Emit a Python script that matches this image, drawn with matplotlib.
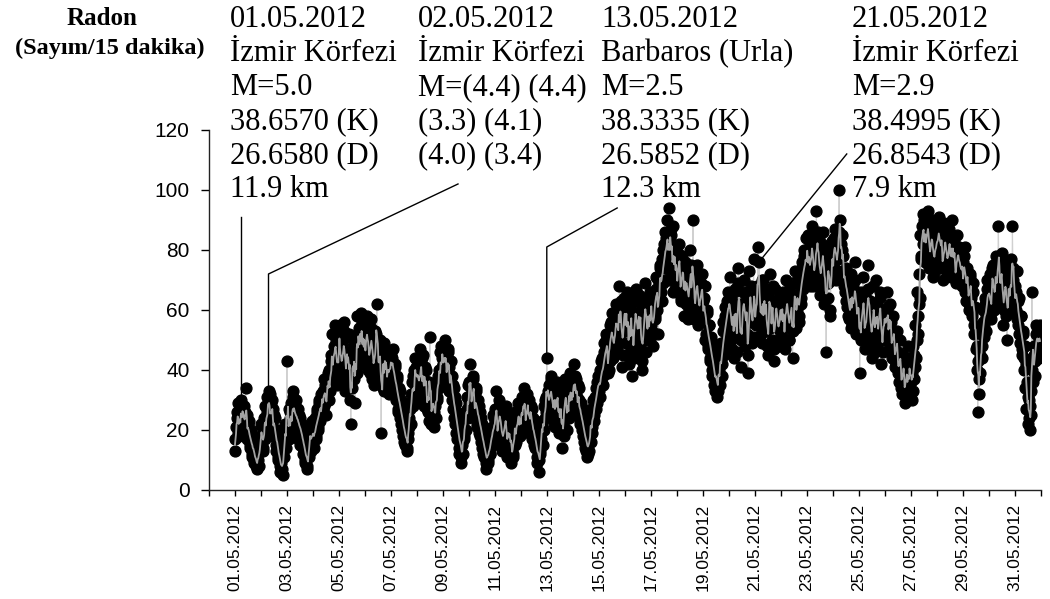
import matplotlib
matplotlib.use('Agg')
import matplotlib.pyplot as plt
import pandas as pd

# half-hourly radon counts (counts per 15 min), 01.05.2012 00:00 .. 31.05.2012 23:30
radon = [
    13, 17, 21, 24, 26, 19, 29, 22, 18, 25, 27, 20, 30, 23, 24, 28, 28, 18, 22, 26, 34, 21, 25, 17,
    19, 22, 23, 14, 15, 19, 20, 11, 12, 17, 16, 10, 9, 14, 12, 8, 7, 11, 10, 13, 8, 15, 13, 18,      # 01.05
    16, 22, 21, 13, 14, 19, 24, 17, 28, 21, 20, 26, 31, 24, 33, 27, 32, 20, 23, 29, 30, 22, 27, 18,
    19, 25, 24, 13, 15, 20, 18, 11, 10, 15, 13, 8, 6, 11, 9, 7, 5, 13, 11, 17, 16, 22, 20, 14,       # 02.05
    43, 19, 22, 27, 17, 24, 26, 19, 29, 23, 21, 31, 33, 20, 25, 28, 30, 18, 23, 27, 27, 17, 20, 25,
    24, 15, 18, 22, 21, 12, 14, 19, 17, 9, 10, 15, 13, 7, 8, 12, 11, 17, 15, 21, 19, 13, 16, 23,     # 03.05
    20, 16, 14, 22, 24, 17, 18, 26, 27, 20, 21, 29, 30, 24, 23, 32, 26, 30, 33, 27, 28, 37, 35, 29,
    25, 33, 31, 39, 36, 30, 40, 34, 33, 43, 45, 38, 52, 41, 36, 48, 55, 44, 42, 50, 47, 35, 38, 53,  # 04.05
    44, 50, 55, 40, 36, 47, 49, 42, 41, 53, 56, 38, 33, 46, 45, 51, 39, 35, 52, 44, 30, 41, 22, 37,
    43, 34, 48, 40, 37, 46, 29, 43, 50, 39, 58, 48, 45, 54, 53, 42, 59, 50, 47, 56, 42, 49, 55, 45,  # 05.05
    51, 44, 46, 55, 58, 48, 40, 52, 49, 39, 43, 57, 54, 45, 37, 50, 47, 35, 41, 53, 52, 46, 62, 49,
    44, 40, 38, 48, 50, 42, 19, 36, 45, 34, 40, 49, 33, 43, 47, 38, 42, 35, 36, 45, 44, 32, 39, 46,  # 06.05
    45, 40, 38, 44, 47, 35, 34, 41, 42, 31, 30, 38, 37, 27, 26, 34, 33, 24, 22, 30, 29, 20, 18, 26,
    24, 16, 15, 22, 20, 13, 14, 19, 17, 24, 21, 29, 27, 22, 32, 36, 38, 28, 30, 40, 35, 44, 41, 33,  # 07.05
    36, 41, 43, 33, 31, 39, 47, 35, 38, 44, 34, 29, 45, 37, 28, 41, 40, 31, 33, 27, 26, 35, 36, 23,
    51, 29, 30, 22, 24, 33, 32, 26, 21, 30, 28, 24, 35, 31, 30, 38, 40, 34, 46, 39, 37, 48, 44, 41,  # 08.05
    48, 42, 39, 45, 50, 37, 44, 40, 36, 47, 46, 33, 41, 36, 33, 43, 38, 30, 27, 35, 34, 24, 22, 31,
    29, 19, 17, 26, 24, 14, 12, 21, 19, 11, 9, 16, 15, 12, 21, 17, 18, 24, 26, 20, 31, 27, 24, 35,   # 09.05
    29, 36, 42, 31, 34, 26, 27, 37, 38, 29, 31, 24, 25, 34, 33, 21, 22, 30, 28, 19, 18, 26, 24, 16,
    14, 22, 20, 12, 11, 18, 16, 9, 7, 14, 13, 10, 9, 15, 17, 12, 12, 20, 21, 16, 15, 25, 24, 18,     # 10.05
    19, 27, 33, 22, 24, 17, 16, 28, 30, 19, 21, 25, 26, 13, 14, 22, 23, 16, 18, 26, 28, 20, 11, 17,
    20, 24, 15, 12, 24, 19, 9, 14, 17, 11, 12, 20, 21, 15, 26, 18, 16, 23, 29, 20, 22, 27, 18, 25,   # 11.05
    25, 20, 31, 27, 22, 29, 34, 24, 28, 21, 20, 30, 32, 25, 26, 19, 30, 23, 23, 28, 27, 17, 18, 24,
    22, 15, 14, 20, 19, 11, 9, 16, 15, 10, 6, 13, 12, 19, 17, 23, 22, 15, 28, 20, 24, 30, 31, 26,    # 12.05
    44, 29, 27, 33, 35, 25, 29, 37, 38, 27, 24, 31, 33, 22, 30, 35, 21, 28, 36, 26, 28, 33, 19, 24,
    32, 22, 25, 29, 14, 20, 30, 18, 23, 34, 37, 25, 27, 31, 20, 28, 33, 24, 39, 30, 26, 35, 31, 28,  # 13.05
    35, 30, 42, 33, 28, 38, 37, 26, 31, 35, 25, 30, 34, 23, 22, 28, 29, 20, 18, 25, 25, 16, 14, 21,
    21, 13, 11, 18, 17, 12, 13, 20, 22, 16, 27, 21, 19, 25, 30, 23, 25, 31, 34, 27, 29, 36, 38, 32,  # 14.05
    33, 37, 40, 31, 36, 43, 44, 35, 38, 46, 49, 41, 42, 50, 52, 44, 46, 39, 40, 51, 55, 43, 48, 56,
    59, 47, 44, 54, 53, 45, 50, 58, 62, 52, 47, 60, 57, 49, 68, 55, 52, 63, 60, 41, 45, 57, 64, 53,  # 15.05
    56, 62, 49, 58, 66, 45, 53, 60, 42, 55, 61, 47, 57, 64, 38, 52, 59, 44, 51, 63, 67, 54, 45, 59,
    63, 48, 55, 65, 48, 57, 60, 43, 40, 54, 58, 50, 52, 64, 69, 56, 46, 61, 57, 51, 62, 55, 50, 66,  # 16.05
    55, 61, 63, 53, 48, 59, 66, 57, 58, 67, 71, 62, 60, 70, 52, 64, 68, 75, 74, 66, 63, 77, 80, 69,
    70, 82, 86, 74, 76, 84, 90, 79, 81, 70, 94, 83, 73, 87, 85, 75, 78, 66, 88, 80, 67, 76, 79, 71,  # 17.05
    74, 68, 66, 79, 82, 73, 71, 64, 63, 76, 78, 67, 69, 74, 58, 70, 76, 62, 65, 73, 72, 57, 60, 69,
    80, 65, 68, 75, 62, 71, 90, 66, 57, 63, 70, 59, 64, 72, 75, 61, 55, 66, 67, 58, 61, 69, 72, 63,  # 18.05
    63, 57, 56, 64, 68, 50, 52, 59, 60, 48, 47, 55, 55, 44, 43, 51, 50, 40, 38, 47, 46, 35, 33, 42,
    41, 36, 31, 39, 37, 33, 44, 40, 35, 47, 49, 38, 42, 53, 56, 45, 48, 58, 61, 50, 53, 63, 66, 55,  # 19.05
    58, 64, 71, 53, 50, 60, 63, 47, 55, 66, 44, 57, 67, 51, 60, 46, 52, 69, 74, 56, 57, 62, 41, 50,
    62, 55, 54, 66, 70, 58, 48, 61, 65, 52, 59, 45, 39, 56, 73, 60, 56, 68, 64, 49, 51, 62, 77, 57,  # 20.05
    62, 57, 55, 65, 68, 60, 81, 66, 76, 63, 58, 52, 64, 70, 49, 59, 70, 55, 60, 67, 53, 61, 66, 48,
    45, 56, 59, 64, 72, 54, 56, 62, 50, 68, 63, 47, 43, 58, 67, 55, 57, 63, 61, 50, 48, 59, 65, 53,  # 21.05
    58, 64, 52, 59, 66, 48, 61, 55, 47, 62, 70, 57, 55, 66, 63, 50, 50, 60, 68, 54, 57, 64, 44, 53,
    62, 58, 73, 65, 54, 61, 60, 70, 65, 56, 58, 68, 71, 62, 64, 74, 76, 67, 69, 78, 80, 71, 72, 84,  # 22.05
    78, 72, 85, 76, 70, 80, 82, 68, 74, 83, 88, 77, 68, 75, 80, 70, 72, 79, 93, 74, 76, 86, 84, 71,
    65, 78, 79, 67, 71, 82, 86, 73, 62, 76, 75, 69, 46, 72, 81, 64, 69, 78, 77, 60, 58, 74, 83, 70,  # 23.05
    80, 75, 74, 84, 87, 78, 70, 81, 83, 73, 77, 86, 100, 79, 90, 82, 72, 80, 85, 71, 78, 68, 66, 73,
    74, 63, 61, 70, 69, 58, 57, 65, 64, 54, 72, 62, 55, 68, 67, 59, 60, 70, 76, 56, 52, 64, 63, 58,  # 24.05
    58, 63, 39, 55, 66, 50, 53, 61, 71, 57, 60, 52, 47, 59, 64, 54, 56, 67, 75, 58, 50, 63, 62, 49,
    44, 56, 68, 53, 57, 62, 52, 46, 70, 58, 48, 55, 61, 51, 55, 64, 66, 57, 42, 50, 59, 46, 53, 60,  # 25.05
    60, 55, 50, 58, 66, 52, 54, 61, 47, 57, 62, 50, 56, 46, 44, 53, 58, 48, 49, 43, 41, 51, 53, 45,
    46, 39, 36, 44, 50, 41, 40, 34, 32, 42, 45, 37, 38, 33, 29, 40, 43, 36, 35, 30, 48, 39, 31, 44,  # 26.05
    42, 36, 30, 39, 48, 33, 37, 45, 55, 41, 44, 50, 66, 58, 52, 62, 72, 64, 85, 77, 78, 88, 92, 82,
    83, 90, 76, 86, 89, 79, 80, 91, 93, 84, 74, 81, 86, 77, 79, 88, 90, 75, 71, 83, 84, 73, 77, 87,  # 27.05
    86, 78, 80, 88, 91, 83, 75, 84, 88, 79, 82, 74, 70, 81, 89, 77, 78, 86, 84, 72, 73, 80, 87, 76,
    80, 85, 76, 71, 90, 79, 71, 82, 83, 74, 77, 70, 69, 79, 85, 73, 74, 81, 80, 70, 72, 76, 78, 68,  # 28.05
    76, 70, 68, 78, 81, 66, 63, 73, 74, 67, 70, 62, 60, 71, 72, 64, 65, 59, 58, 66, 69, 55, 52, 61,
    47, 54, 40, 48, 26, 43, 37, 32, 45, 39, 52, 44, 48, 56, 60, 51, 55, 62, 64, 53, 58, 67, 70, 61,  # 29.05
    62, 67, 72, 58, 57, 65, 68, 74, 75, 63, 60, 71, 70, 65, 78, 69, 64, 73, 88, 76, 73, 62, 66, 75,
    79, 68, 55, 64, 71, 60, 63, 72, 76, 58, 50, 66, 69, 59, 74, 65, 61, 70, 77, 63, 88, 74, 70, 66,  # 30.05
    68, 62, 60, 66, 73, 57, 55, 63, 64, 52, 49, 58, 58, 47, 45, 53, 52, 44, 40, 48, 34, 42, 27, 36,
    22, 31, 30, 24, 20, 28, 25, 33, 66, 40, 36, 45, 48, 38, 43, 52, 55, 46, 47, 54, 53, 44, 50, 55,  # 31.05
]

# earthquake events marked on the series
event_times = ["2012-05-01 06:00", "2012-05-02 07:00", "2012-05-13 00:00", "2012-05-21 04:00"]
event_texts = [
    ["01.05.2012", "İzmir Körfezi", "M=5.0", "38.6570 (K)", "26.6580 (D)", "11.9 km"],
    ["02.05.2012", "İzmir Körfezi", "M=(4.4) (4.4)", "(3.3) (4.1)", "(4.0) (3.4)", ""],
    ["13.05.2012", "Barbaros (Urla)", "M=2.5", "38.3335 (K)", "26.5852 (D)", "12.3 km"],
    ["21.05.2012", "İzmir Körfezi", "M=2.9", "38.4995 (K)", "26.8543 (D)", "7.9 km"],
]
# leader line from the event point: elbow height, then end point (time, value)
leader_elbow = [91, 72, 81, None]
leader_end = [None, ("2012-05-09 14:00", 102), ("2012-05-15 17:00", 94), ("2012-05-24 13:00", 112)]

times = pd.date_range("2012-05-01 00:00", periods=len(radon), freq="30min")
series = pd.Series(radon, index=times)
smooth = series.rolling(4, center=True, min_periods=1).mean()

plt.rcParams['font.family'] = ['Liberation Sans', 'DejaVu Sans']

fig = plt.figure(figsize=(10.5, 5.99), dpi=100)
ax = fig.add_axes([0.199, 0.182, 0.792, 0.601])

ax.plot(times, series.values, color='#d0d0d0', lw=0.8, marker='o', ms=7.8,
        mfc='black', mec='black', zorder=2)
ax.plot(times, smooth.values, color='#a3a3a3', lw=1.3, zorder=3)

# leader lines from the events to their labels
for t, elbow, end in zip(event_times, leader_elbow, leader_end):
    t0 = pd.Timestamp(t)
    xs, ys = [t0], [series[t0]]
    if elbow is not None:
        xs.append(t0)
        ys.append(elbow)
    if end is not None:
        xs.append(pd.Timestamp(end[0]))
        ys.append(end[1])
    ax.plot(xs, ys, color='black', lw=1.0, zorder=4, clip_on=False)

ax.set_ylim(0, 120)
ax.set_yticks(range(0, 121, 20))
ax.set_xlim(pd.Timestamp("2012-04-30"), pd.Timestamp("2012-06-01"))
ticks = pd.date_range("2012-04-30", "2012-06-01", freq="D")
ax.set_xticks(ticks)
ax.set_xticklabels([d.strftime("%d.%m.%Y") if (d.month == 5 and d.day % 2 == 1) else ""
                    for d in ticks], rotation=90)
ax.tick_params(axis='x', direction='out', length=4, width=1, pad=6, labelsize=12.5)
ax.tick_params(axis='y', direction='out', length=6, width=1, pad=8, labelsize=15)

for side in ('top', 'right'):
    ax.spines[side].set_visible(False)
for side in ('left', 'bottom'):
    ax.spines[side].set_linewidth(1.0)
    ax.spines[side].set_color('#222222')

W, H = 1050.0, 599.0
serif = ['Liberation Serif', 'DejaVu Serif']
fig.text(102 / W, 1 - 25 / H, "Radon", family=serif, fontsize=18, fontweight='bold',
         ha='center', va='baseline')
fig.text(110 / W, 1 - 54 / H, "(Sayım/15 dakika)", family=serif, fontsize=17.5,
         fontweight='bold', ha='center', va='baseline')

col_x = [230, 418, 601, 852]
row_base = [27, 61, 95, 129, 163, 197]
for x0, lines in zip(col_x, event_texts):
    for yb, s in zip(row_base, lines):
        if s:
            fig.text(x0 / W, 1 - yb / H, s, family=serif, fontsize=22,
                     ha='left', va='baseline')

fig.savefig("out.png", dpi=100, facecolor='white')
